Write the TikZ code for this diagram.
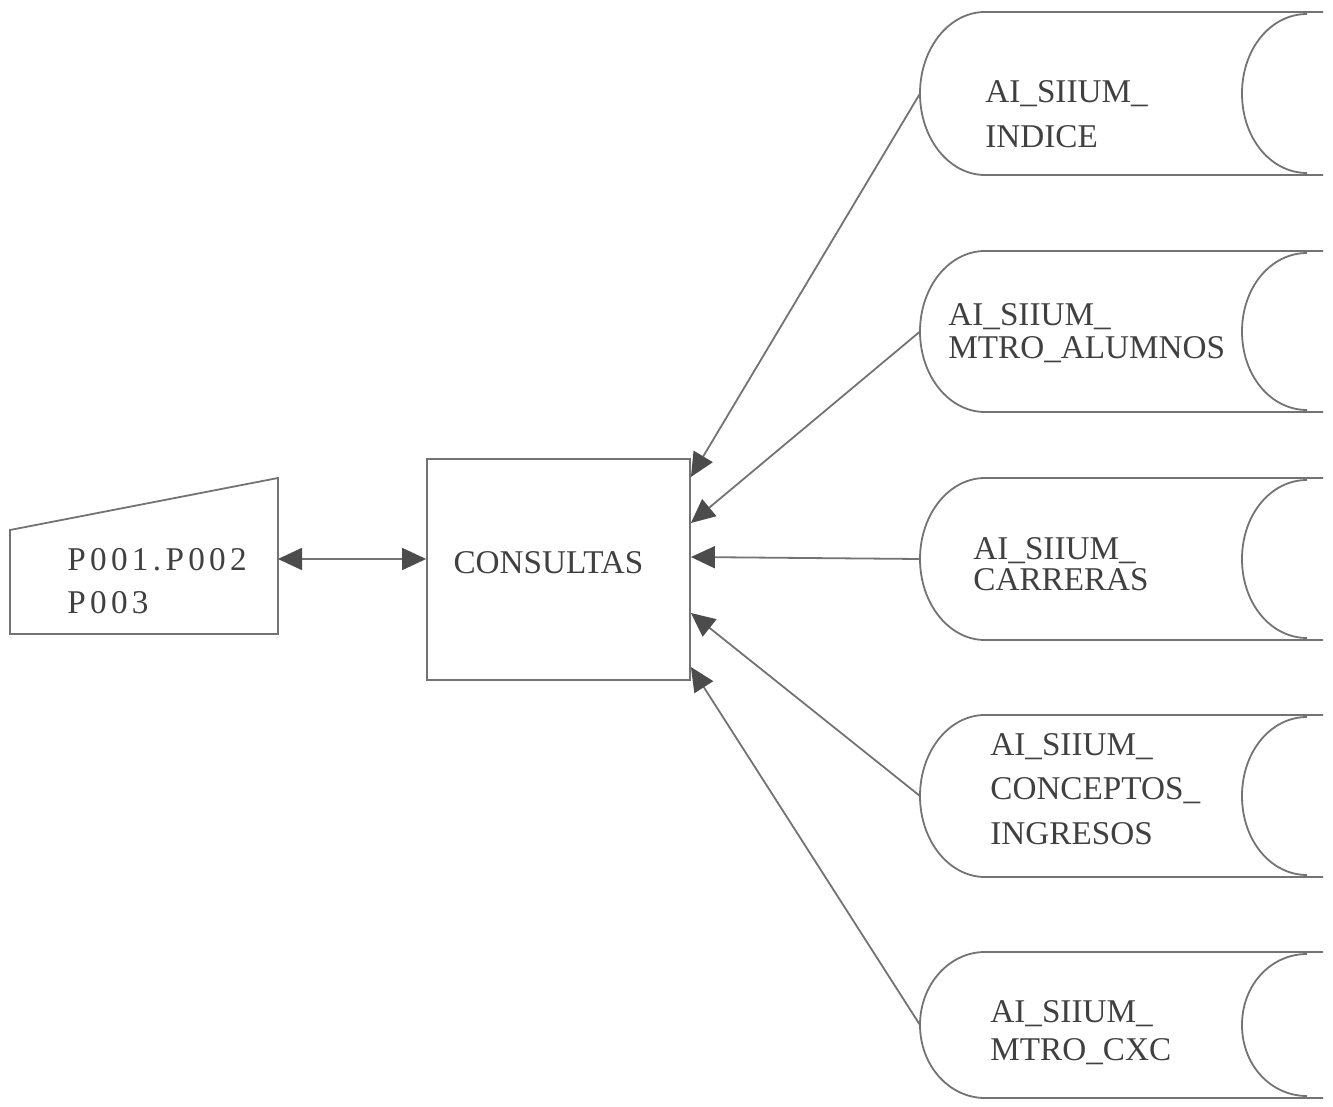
\documentclass[tikz,border=0pt]{standalone}
\usepackage{fontspec}
\setmainfont{Liberation Serif}
\usetikzlibrary{arrows.meta}

\tikzset{punta/.tip={Triangle[length=12pt, width=11pt, color=black!70]}}

\begin{document}
\begin{tikzpicture}[x=0.5pt, y=-0.5pt,
		linea/.style={draw=black!55, line width=0.9pt},
		flecha/.style={linea, -punta},
		texto/.style={text=black!75, inner sep=0pt, align=left, anchor=north west}]
	\useasboundingbox (0, 0) rectangle (1333, 1107);

	\draw[linea] (10, 530) -- (278, 478) -- (278, 634) -- (10, 634) -- cycle;
	\coordinate (p) at (278, 559);
	\node[texto, font=\fontsize{16.6}{21.5}\selectfont\addfontfeature{LetterSpace=13}] (pant) at (67, 548) {P001.P002\\P003};

	\node[linea, minimum width=131.5pt, minimum height=110.5pt, inner sep=0pt, text depth=7pt, text=black!75, font=\fontsize{16.6}{20}\selectfont] (cons) at (558.5, 569.5) {CONSULTAS\hspace*{10pt}};
	\draw[linea, punta-punta] (p) -- (cons.west |- p);

	\foreach \n/\ya/\yb/\tx/\ty/\sp/\txt in {
		1/12/175/985/80/22.5/{AI\_SIIUM\_\\INDICE},
		2/251/412/948/303/16.5/{AI\_SIIUM\_\\MTRO\_ALUMNOS},
		3/478/640/973/537/15.5/{AI\_SIIUM\_\\CARRERAS},
		4/715/877/990/733/22.25/{AI\_SIIUM\_\\CONCEPTOS\_\\INGRESOS},
		5/952/1098/990/1000/19/{AI\_SIIUM\_\\MTRO\_CXC}} {
		\pgfmathsetmacro{\ym}{(\ya+\yb)/2}
		\pgfmathsetmacro{\kk}{0.5523*(\yb-\ya)/2}
		\draw[linea] (1323, \ya) -- (985, \ya) .. controls (949, \ya) and (920, \ym-\kk) .. (920, \ym)
			.. controls (920, \ym+\kk) and (949, \yb) .. (985, \yb) -- (1323, \yb);
		\draw[linea] (1307, \ya+2) .. controls (1271, \ya+2) and (1242, \ym-\kk) .. (1242, \ym)
			.. controls (1242, \ym+\kk) and (1271, \yb-2) .. (1307, \yb-2);
		\coordinate (s\n) at (920, \ym);
		\node[texto, font=\fontsize{16.6}{\sp}\selectfont] (t\n) at (\tx, \ty) {\txt};
	}

	\foreach \n/\y in {1/477, 2/523, 3/557, 4/613, 5/667}
		\coordinate (e\n) at (cons.east |- 0, \y);

	\foreach \n in {1, ..., 5}
		\draw[flecha] (s\n) -- (e\n);

\end{tikzpicture}
\end{document}
